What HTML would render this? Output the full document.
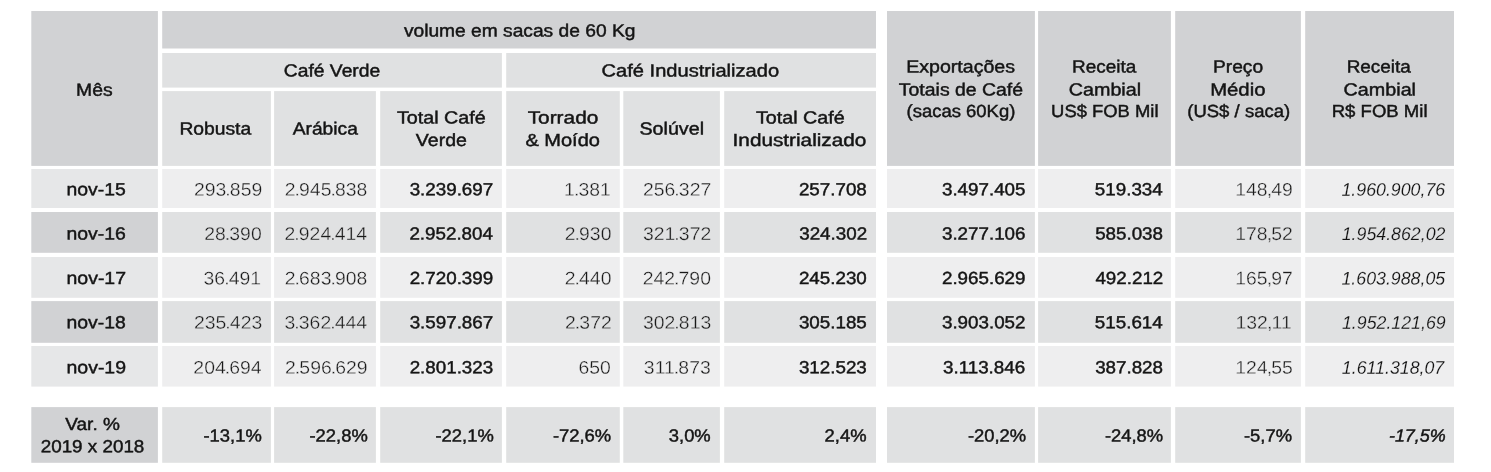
<!DOCTYPE html>
<html lang="pt-BR"><head><meta charset="utf-8">
<title>Exportações de Café</title>
<style>
html,body{margin:0;padding:0;background:#fff;}
body{width:1491px;height:472px;position:relative;overflow:hidden;
 font-family:"Liberation Sans",sans-serif;font-size:17.5px;line-height:20px;color:#141414;}
#bg{position:absolute;left:0;top:0;display:block;}
#tx{position:absolute;left:0;top:0;width:1491px;height:472px;will-change:transform;}
.t{position:absolute;white-space:nowrap;height:20px;}
.sb{font-size:17.5px;-webkit-text-stroke:0.45px #141414;}
.sbi{font-size:17.5px;font-style:italic;-webkit-text-stroke:0.45px #141414;}
.lt{font-size:18.45px;color:#1a1a1a;}
.it{font-size:18.2px;font-style:italic;color:#111111;}
.e1{-webkit-text-stroke:0.33px #eeeeef;}
.e2{-webkit-text-stroke:0.33px #e0e1e2;}
.e3{-webkit-text-stroke:0.15px #eeeeef;}
.e4{-webkit-text-stroke:0.15px #e0e1e2;}
.lt b{font-weight:normal;margin:0 -0.85px;}
.lt i{font-style:normal;margin:0 -0.75px;}
.tc{transform-origin:center center;}
.tr{transform-origin:right center;}
</style></head><body>
<svg id="bg" width="1491" height="472" viewBox="0 0 1491 472">
<rect x="31.3" y="11" width="126.6" height="154.9" fill="#d1d2d4"/>
<rect x="162.2" y="11" width="713.8" height="37.5" fill="#d1d2d4"/>
<rect x="162.2" y="53" width="339.7" height="34.6" fill="#e0e1e2"/>
<rect x="506.2" y="53" width="369.8" height="34.6" fill="#e0e1e2"/>
<rect x="162.2" y="91.1" width="108.7" height="74.8" fill="#e0e1e2"/>
<rect x="274.1" y="91.1" width="101.8" height="74.8" fill="#e0e1e2"/>
<rect x="380.2" y="91.1" width="121.7" height="74.8" fill="#e0e1e2"/>
<rect x="506.2" y="91.1" width="113.6" height="74.8" fill="#e0e1e2"/>
<rect x="623.3" y="91.1" width="96.6" height="74.8" fill="#e0e1e2"/>
<rect x="724.2" y="91.1" width="151.8" height="74.8" fill="#e0e1e2"/>
<rect x="887" y="11" width="147.9" height="154.9" fill="#d1d2d4"/>
<rect x="1038.1" y="11" width="132.8" height="154.9" fill="#d1d2d4"/>
<rect x="1175.2" y="11" width="125.7" height="154.9" fill="#d1d2d4"/>
<rect x="1305.2" y="11" width="148.8" height="154.9" fill="#d1d2d4"/>
<rect x="31.3" y="169" width="126.6" height="39" fill="#e6e7e8"/>
<rect x="162.2" y="169" width="108.7" height="39" fill="#eeeeef"/>
<rect x="274.1" y="169" width="101.8" height="39" fill="#eeeeef"/>
<rect x="380.2" y="169" width="121.7" height="39" fill="#eeeeef"/>
<rect x="506.2" y="169" width="113.6" height="39" fill="#eeeeef"/>
<rect x="623.3" y="169" width="96.6" height="39" fill="#eeeeef"/>
<rect x="724.2" y="169" width="151.8" height="39" fill="#eeeeef"/>
<rect x="887" y="169" width="147.9" height="39" fill="#eeeeef"/>
<rect x="1038.1" y="169" width="132.8" height="39" fill="#eeeeef"/>
<rect x="1175.2" y="169" width="125.7" height="39" fill="#eeeeef"/>
<rect x="1305.2" y="169" width="148.8" height="39" fill="#eeeeef"/>
<rect x="31.3" y="212" width="126.6" height="40.8" fill="#d1d2d4"/>
<rect x="162.2" y="212" width="108.7" height="40.8" fill="#e0e1e2"/>
<rect x="274.1" y="212" width="101.8" height="40.8" fill="#e0e1e2"/>
<rect x="380.2" y="212" width="121.7" height="40.8" fill="#e0e1e2"/>
<rect x="506.2" y="212" width="113.6" height="40.8" fill="#e0e1e2"/>
<rect x="623.3" y="212" width="96.6" height="40.8" fill="#e0e1e2"/>
<rect x="724.2" y="212" width="151.8" height="40.8" fill="#e0e1e2"/>
<rect x="887" y="212" width="147.9" height="40.8" fill="#e0e1e2"/>
<rect x="1038.1" y="212" width="132.8" height="40.8" fill="#e0e1e2"/>
<rect x="1175.2" y="212" width="125.7" height="40.8" fill="#e0e1e2"/>
<rect x="1305.2" y="212" width="148.8" height="40.8" fill="#e0e1e2"/>
<rect x="31.3" y="257" width="126.6" height="40.8" fill="#e6e7e8"/>
<rect x="162.2" y="257" width="108.7" height="40.8" fill="#eeeeef"/>
<rect x="274.1" y="257" width="101.8" height="40.8" fill="#eeeeef"/>
<rect x="380.2" y="257" width="121.7" height="40.8" fill="#eeeeef"/>
<rect x="506.2" y="257" width="113.6" height="40.8" fill="#eeeeef"/>
<rect x="623.3" y="257" width="96.6" height="40.8" fill="#eeeeef"/>
<rect x="724.2" y="257" width="151.8" height="40.8" fill="#eeeeef"/>
<rect x="887" y="257" width="147.9" height="40.8" fill="#eeeeef"/>
<rect x="1038.1" y="257" width="132.8" height="40.8" fill="#eeeeef"/>
<rect x="1175.2" y="257" width="125.7" height="40.8" fill="#eeeeef"/>
<rect x="1305.2" y="257" width="148.8" height="40.8" fill="#eeeeef"/>
<rect x="31.3" y="301.1" width="126.6" height="41.7" fill="#d1d2d4"/>
<rect x="162.2" y="301.1" width="108.7" height="41.7" fill="#e0e1e2"/>
<rect x="274.1" y="301.1" width="101.8" height="41.7" fill="#e0e1e2"/>
<rect x="380.2" y="301.1" width="121.7" height="41.7" fill="#e0e1e2"/>
<rect x="506.2" y="301.1" width="113.6" height="41.7" fill="#e0e1e2"/>
<rect x="623.3" y="301.1" width="96.6" height="41.7" fill="#e0e1e2"/>
<rect x="724.2" y="301.1" width="151.8" height="41.7" fill="#e0e1e2"/>
<rect x="887" y="301.1" width="147.9" height="41.7" fill="#e0e1e2"/>
<rect x="1038.1" y="301.1" width="132.8" height="41.7" fill="#e0e1e2"/>
<rect x="1175.2" y="301.1" width="125.7" height="41.7" fill="#e0e1e2"/>
<rect x="1305.2" y="301.1" width="148.8" height="41.7" fill="#e0e1e2"/>
<rect x="31.3" y="346" width="126.6" height="40.6" fill="#e6e7e8"/>
<rect x="162.2" y="346" width="108.7" height="40.6" fill="#eeeeef"/>
<rect x="274.1" y="346" width="101.8" height="40.6" fill="#eeeeef"/>
<rect x="380.2" y="346" width="121.7" height="40.6" fill="#eeeeef"/>
<rect x="506.2" y="346" width="113.6" height="40.6" fill="#eeeeef"/>
<rect x="623.3" y="346" width="96.6" height="40.6" fill="#eeeeef"/>
<rect x="724.2" y="346" width="151.8" height="40.6" fill="#eeeeef"/>
<rect x="887" y="346" width="147.9" height="40.6" fill="#eeeeef"/>
<rect x="1038.1" y="346" width="132.8" height="40.6" fill="#eeeeef"/>
<rect x="1175.2" y="346" width="125.7" height="40.6" fill="#eeeeef"/>
<rect x="1305.2" y="346" width="148.8" height="40.6" fill="#eeeeef"/>
<rect x="31.3" y="407.1" width="126.6" height="55.7" fill="#d1d2d4"/>
<rect x="162.2" y="407.1" width="108.7" height="55.7" fill="#e0e1e2"/>
<rect x="274.1" y="407.1" width="101.8" height="55.7" fill="#e0e1e2"/>
<rect x="380.2" y="407.1" width="121.7" height="55.7" fill="#e0e1e2"/>
<rect x="506.2" y="407.1" width="113.6" height="55.7" fill="#e0e1e2"/>
<rect x="623.3" y="407.1" width="96.6" height="55.7" fill="#e0e1e2"/>
<rect x="724.2" y="407.1" width="151.8" height="55.7" fill="#e0e1e2"/>
<rect x="887" y="407.1" width="147.9" height="55.7" fill="#e0e1e2"/>
<rect x="1038.1" y="407.1" width="132.8" height="55.7" fill="#e0e1e2"/>
<rect x="1175.2" y="407.1" width="125.7" height="55.7" fill="#e0e1e2"/>
<rect x="1305.2" y="407.1" width="148.8" height="55.7" fill="#e0e1e2"/>
</svg>
<div id="tx">
<span class="t tc sb" style="left:77px;top:79px;transform:translate(0.80px,0.75px) rotate(0.03deg) scaleX(1.1048)">Mês</span>
<span class="t tc sb" style="left:414px;top:20px;transform:translate(0.10px,0.55px) rotate(0.03deg) scaleX(1.0964)">volume em sacas de 60 Kg</span>
<span class="t tc sb" style="left:288px;top:60px;transform:translate(0.22px,0.45px) rotate(0.03deg) scaleX(1.1014)">Café Verde</span>
<span class="t tc sb" style="left:612px;top:60px;transform:translate(0.98px,0.45px) rotate(0.03deg) scaleX(1.1479)">Café Industrializado</span>
<span class="t tc sb" style="left:182px;top:118px;transform:translate(0.70px,0.45px) rotate(0.03deg) scaleX(1.1019)">Robusta</span>
<span class="t tc sb" style="left:295px;top:118px;transform:translate(0.58px,0.45px) rotate(0.03deg) scaleX(1.0979)">Arábica</span>
<span class="t tc sb" style="left:401px;top:107px;transform:translate(0.97px,0.45px) rotate(0.03deg) scaleX(1.1282)">Total Café</span>
<span class="t tc sb" style="left:418px;top:130px;transform:translate(0.54px,0.05px) rotate(0.03deg) scaleX(1.1165)">Verde</span>
<span class="t tc sb" style="left:533px;top:107px;transform:translate(0.33px,0.45px) rotate(0.03deg) scaleX(1.1897)">Torrado</span>
<span class="t tc sb" style="left:530px;top:130px;transform:translate(0.07px,0.05px) rotate(0.03deg) scaleX(1.1424)">&amp; Moído</span>
<span class="t tc sb" style="left:643px;top:118px;transform:translate(0.03px,0.45px) rotate(0.03deg) scaleX(1.1250)">Solúvel</span>
<span class="t tc sb" style="left:760px;top:107px;transform:translate(0.97px,0.45px) rotate(0.03deg) scaleX(1.1282)">Total Café</span>
<span class="t tc sb" style="left:743px;top:130px;transform:translate(0.04px,0.05px) rotate(0.03deg) scaleX(1.1847)">Industrializado</span>
<span class="t tc sb" style="left:911px;top:56px;transform:translate(0.96px,0.55px) rotate(0.03deg) scaleX(1.1183)">Exportações</span>
<span class="t tc sb" style="left:905px;top:79px;transform:translate(0.02px,0.45px) rotate(0.03deg) scaleX(1.1108)">Totais de Café</span>
<span class="t tc sb" style="left:909px;top:101px;transform:translate(0.40px,0.05px) rotate(0.03deg) scaleX(1.0542)">(sacas 60Kg)</span>
<span class="t tc sb" style="left:1074px;top:56px;transform:translate(0.47px,0.55px) rotate(0.03deg) scaleX(1.0815)">Receita</span>
<span class="t tc sb" style="left:1072px;top:79px;transform:translate(0.81px,0.45px) rotate(0.03deg) scaleX(1.1280)">Cambial</span>
<span class="t tc sb" style="left:1053px;top:101px;transform:translate(0.74px,0.05px) rotate(0.03deg) scaleX(1.0520)">US$ FOB Mil</span>
<span class="t tc sb" style="left:1215px;top:56px;transform:translate(0.21px,0.55px) rotate(0.03deg) scaleX(1.0955)">Preço</span>
<span class="t tc sb" style="left:1213px;top:79px;transform:translate(0.98px,0.45px) rotate(0.03deg) scaleX(1.1609)">Médio</span>
<span class="t tc sb" style="left:1190px;top:101px;transform:translate(0.08px,0.05px) rotate(0.03deg) scaleX(1.0590)">(US$ / saca)</span>
<span class="t tc sb" style="left:1349px;top:56px;transform:translate(0.07px,0.55px) rotate(0.03deg) scaleX(1.0815)">Receita</span>
<span class="t tc sb" style="left:1347px;top:79px;transform:translate(0.71px,0.45px) rotate(0.03deg) scaleX(1.1280)">Cambial</span>
<span class="t tc sb" style="left:1334px;top:101px;transform:translate(0.42px,0.05px) rotate(0.03deg) scaleX(1.0606)">R$ FOB Mil</span>
<span class="t tc sb" style="left:69px;top:179px;transform:translate(0.37px,0.25px) rotate(0.03deg) scaleX(1.1077)">nov-15</span>
<span class="t tr lt e1" style="right:1229px;top:179px;transform:translate(0.22px,0.80px) rotate(0.03deg) scaleX(1.0510)">293<b>.</b>859</span>
<span class="t tr lt e1" style="right:1124px;top:179px;transform:translate(0.71px,0.80px) rotate(0.03deg) scaleX(1.0510)">2<b>.</b>945<b>.</b>838</span>
<span class="t tr sb" style="right:998px;top:179px;transform:translate(0.35px,0.25px) rotate(0.03deg) scaleX(1.0730)">3.239.697</span>
<span class="t tr lt e1" style="right:881px;top:179px;transform:translate(0.32px,0.80px) rotate(0.03deg) scaleX(1.0510)">1<b>.</b>381</span>
<span class="t tr lt e1" style="right:780px;top:179px;transform:translate(0.22px,0.80px) rotate(0.03deg) scaleX(1.0510)">256<b>.</b>327</span>
<span class="t tr sb" style="right:625px;top:179px;transform:translate(0.55px,0.25px) rotate(0.03deg) scaleX(1.0730)">257.708</span>
<span class="t tr sb" style="right:466px;top:179px;transform:translate(0.65px,0.25px) rotate(0.03deg) scaleX(1.0730)">3.497.405</span>
<span class="t tr sb" style="right:329px;top:179px;transform:translate(0.49px,0.25px) rotate(0.03deg) scaleX(1.0730)">519.334</span>
<span class="t tr lt e1" style="right:199px;top:179px;transform:translate(0.95px,0.80px) rotate(0.03deg) scaleX(1.0510)">148<i>,</i>49</span>
<span class="t tr it e3" style="right:47px;top:179px;transform:translate(0.95px,0.80px) rotate(0.03deg) scaleX(0.9760)">1.960.900,76</span>
<span class="t tc sb" style="left:69px;top:223px;transform:translate(0.37px,0.55px) rotate(0.03deg) scaleX(1.1077)">nov-16</span>
<span class="t tr lt e2" style="right:1230px;top:224px;transform:translate(0.96px,0.10px) rotate(0.03deg) scaleX(1.0510)">28<b>.</b>390</span>
<span class="t tr lt e2" style="right:1124px;top:224px;transform:translate(0.44px,0.10px) rotate(0.03deg) scaleX(1.0510)">2<b>.</b>924<b>.</b>414</span>
<span class="t tr sb" style="right:998px;top:223px;transform:translate(0.09px,0.55px) rotate(0.03deg) scaleX(1.0730)">2.952.804</span>
<span class="t tr lt e2" style="right:881px;top:224px;transform:translate(0.96px,0.10px) rotate(0.03deg) scaleX(1.0510)">2<b>.</b>930</span>
<span class="t tr lt e2" style="right:780px;top:224px;transform:translate(0.22px,0.10px) rotate(0.03deg) scaleX(1.0510)">321<b>.</b>372</span>
<span class="t tr sb" style="right:625px;top:223px;transform:translate(0.82px,0.55px) rotate(0.03deg) scaleX(1.0730)">324.302</span>
<span class="t tr sb" style="right:466px;top:223px;transform:translate(0.65px,0.55px) rotate(0.03deg) scaleX(1.0730)">3.277.106</span>
<span class="t tr sb" style="right:329px;top:223px;transform:translate(0.75px,0.55px) rotate(0.03deg) scaleX(1.0730)">585.038</span>
<span class="t tr lt e2" style="right:199px;top:224px;transform:translate(0.95px,0.10px) rotate(0.03deg) scaleX(1.0510)">178<i>,</i>52</span>
<span class="t tr it e4" style="right:46px;top:224px;transform:translate(0.20px,0.10px) rotate(0.03deg) scaleX(0.9760)">1.954.862,02</span>
<span class="t tc sb" style="left:69px;top:268px;transform:translate(0.51px,0.05px) rotate(0.03deg) scaleX(1.1130)">nov-17</span>
<span class="t tr lt e1" style="right:1230px;top:268px;transform:translate(0.32px,0.60px) rotate(0.03deg) scaleX(1.0510)">36<b>.</b>491</span>
<span class="t tr lt e1" style="right:1124px;top:268px;transform:translate(0.71px,0.60px) rotate(0.03deg) scaleX(1.0510)">2<b>.</b>683<b>.</b>908</span>
<span class="t tr sb" style="right:998px;top:268px;transform:translate(0.35px,0.05px) rotate(0.03deg) scaleX(1.0730)">2.720.399</span>
<span class="t tr lt e1" style="right:881px;top:268px;transform:translate(0.96px,0.60px) rotate(0.03deg) scaleX(1.0510)">2<b>.</b>440</span>
<span class="t tr lt e1" style="right:781px;top:268px;transform:translate(0.96px,0.60px) rotate(0.03deg) scaleX(1.0510)">242<b>.</b>790</span>
<span class="t tr sb" style="right:625px;top:268px;transform:translate(0.55px,0.05px) rotate(0.03deg) scaleX(1.0730)">245.230</span>
<span class="t tr sb" style="right:466px;top:268px;transform:translate(0.65px,0.05px) rotate(0.03deg) scaleX(1.0730)">2.965.629</span>
<span class="t tr sb" style="right:328px;top:268px;transform:translate(0.02px,0.05px) rotate(0.03deg) scaleX(1.0730)">492.212</span>
<span class="t tr lt e1" style="right:199px;top:268px;transform:translate(0.95px,0.60px) rotate(0.03deg) scaleX(1.0510)">165<i>,</i>97</span>
<span class="t tr it e3" style="right:47px;top:268px;transform:translate(0.95px,0.60px) rotate(0.03deg) scaleX(0.9760)">1.603.988,05</span>
<span class="t tc sb" style="left:69px;top:312px;transform:translate(0.37px,0.25px) rotate(0.03deg) scaleX(1.1077)">nov-18</span>
<span class="t tr lt e2" style="right:1229px;top:312px;transform:translate(0.22px,0.80px) rotate(0.03deg) scaleX(1.0510)">235<b>.</b>423</span>
<span class="t tr lt e2" style="right:1124px;top:312px;transform:translate(0.44px,0.80px) rotate(0.03deg) scaleX(1.0510)">3<b>.</b>362<b>.</b>444</span>
<span class="t tr sb" style="right:998px;top:312px;transform:translate(0.35px,0.25px) rotate(0.03deg) scaleX(1.0730)">3.597.867</span>
<span class="t tr lt e2" style="right:880px;top:312px;transform:translate(0.22px,0.80px) rotate(0.03deg) scaleX(1.0510)">2<b>.</b>372</span>
<span class="t tr lt e2" style="right:780px;top:312px;transform:translate(0.22px,0.80px) rotate(0.03deg) scaleX(1.0510)">302<b>.</b>813</span>
<span class="t tr sb" style="right:625px;top:312px;transform:translate(0.55px,0.25px) rotate(0.03deg) scaleX(1.0730)">305.185</span>
<span class="t tr sb" style="right:466px;top:312px;transform:translate(0.65px,0.25px) rotate(0.03deg) scaleX(1.0730)">3.903.052</span>
<span class="t tr sb" style="right:329px;top:312px;transform:translate(0.49px,0.25px) rotate(0.03deg) scaleX(1.0730)">515.614</span>
<span class="t tr lt e2" style="right:199px;top:312px;transform:translate(0.18px,0.80px) rotate(0.03deg) scaleX(1.0510)">132<i>,</i>11</span>
<span class="t tr it e4" style="right:46px;top:312px;transform:translate(0.44px,0.80px) rotate(0.03deg) scaleX(0.9760)">1.952.121,69</span>
<span class="t tc sb" style="left:69px;top:357px;transform:translate(0.51px,0.25px) rotate(0.03deg) scaleX(1.1130)">nov-19</span>
<span class="t tr lt e1" style="right:1230px;top:357px;transform:translate(0.69px,0.80px) rotate(0.03deg) scaleX(1.0510)">204<b>.</b>694</span>
<span class="t tr lt e1" style="right:1124px;top:357px;transform:translate(0.97px,0.80px) rotate(0.03deg) scaleX(1.0510)">2<b>.</b>596<b>.</b>629</span>
<span class="t tr sb" style="right:998px;top:357px;transform:translate(0.35px,0.25px) rotate(0.03deg) scaleX(1.0730)">2.801.323</span>
<span class="t tr lt e1" style="right:880px;top:357px;transform:translate(0.00px,0.80px) rotate(0.03deg) scaleX(1.0510)">650</span>
<span class="t tr lt e1" style="right:780px;top:357px;transform:translate(0.10px,0.80px) rotate(0.03deg) scaleX(1.0510)">311<b>.</b>873</span>
<span class="t tr sb" style="right:625px;top:357px;transform:translate(0.55px,0.25px) rotate(0.03deg) scaleX(1.0730)">312.523</span>
<span class="t tr sb" style="right:466px;top:357px;transform:translate(0.60px,0.25px) rotate(0.03deg) scaleX(1.0730)">3.113.846</span>
<span class="t tr sb" style="right:329px;top:357px;transform:translate(0.75px,0.25px) rotate(0.03deg) scaleX(1.0730)">387.828</span>
<span class="t tr lt e1" style="right:199px;top:357px;transform:translate(0.95px,0.80px) rotate(0.03deg) scaleX(1.0510)">124<i>,</i>55</span>
<span class="t tr it e3" style="right:47px;top:357px;transform:translate(0.36px,0.80px) rotate(0.03deg) scaleX(0.9760)">1.611.318,07</span>
<span class="t tc sb" style="left:67px;top:414px;transform:translate(0.43px,0.05px) rotate(0.03deg) scaleX(1.0860)">Var. %</span>
<span class="t tc sb" style="left:44px;top:436px;transform:translate(0.34px,0.25px) rotate(0.03deg) scaleX(1.0758)">2019 x 2018</span>
<span class="t tr sb" style="right:1230px;top:425px;transform:translate(0.28px,0.45px) rotate(0.03deg) scaleX(1.0500)">-13,1%</span>
<span class="t tr sb" style="right:1124px;top:425px;transform:translate(0.28px,0.45px) rotate(0.03deg) scaleX(1.0500)">-22,8%</span>
<span class="t tr sb" style="right:998px;top:425px;transform:translate(0.28px,0.45px) rotate(0.03deg) scaleX(1.0500)">-22,1%</span>
<span class="t tr sb" style="right:881px;top:425px;transform:translate(0.68px,0.45px) rotate(0.03deg) scaleX(1.0500)">-72,6%</span>
<span class="t tr sb" style="right:781px;top:425px;transform:translate(0.81px,0.45px) rotate(0.03deg) scaleX(1.0500)">3,0%</span>
<span class="t tr sb" style="right:625px;top:425px;transform:translate(0.61px,0.45px) rotate(0.03deg) scaleX(1.0500)">2,4%</span>
<span class="t tr sb" style="right:466px;top:425px;transform:translate(0.68px,0.45px) rotate(0.03deg) scaleX(1.0500)">-20,2%</span>
<span class="t tr sb" style="right:329px;top:425px;transform:translate(0.68px,0.45px) rotate(0.03deg) scaleX(1.0500)">-24,8%</span>
<span class="t tr sb" style="right:199px;top:425px;transform:translate(0.29px,0.45px) rotate(0.03deg) scaleX(1.0500)">-5,7%</span>
<span class="t tr sbi" style="right:46px;top:425px;transform:translate(0.26px,0.45px) rotate(0.03deg) scaleX(1.0240)">-17,5%</span>
</div>
</body></html>
